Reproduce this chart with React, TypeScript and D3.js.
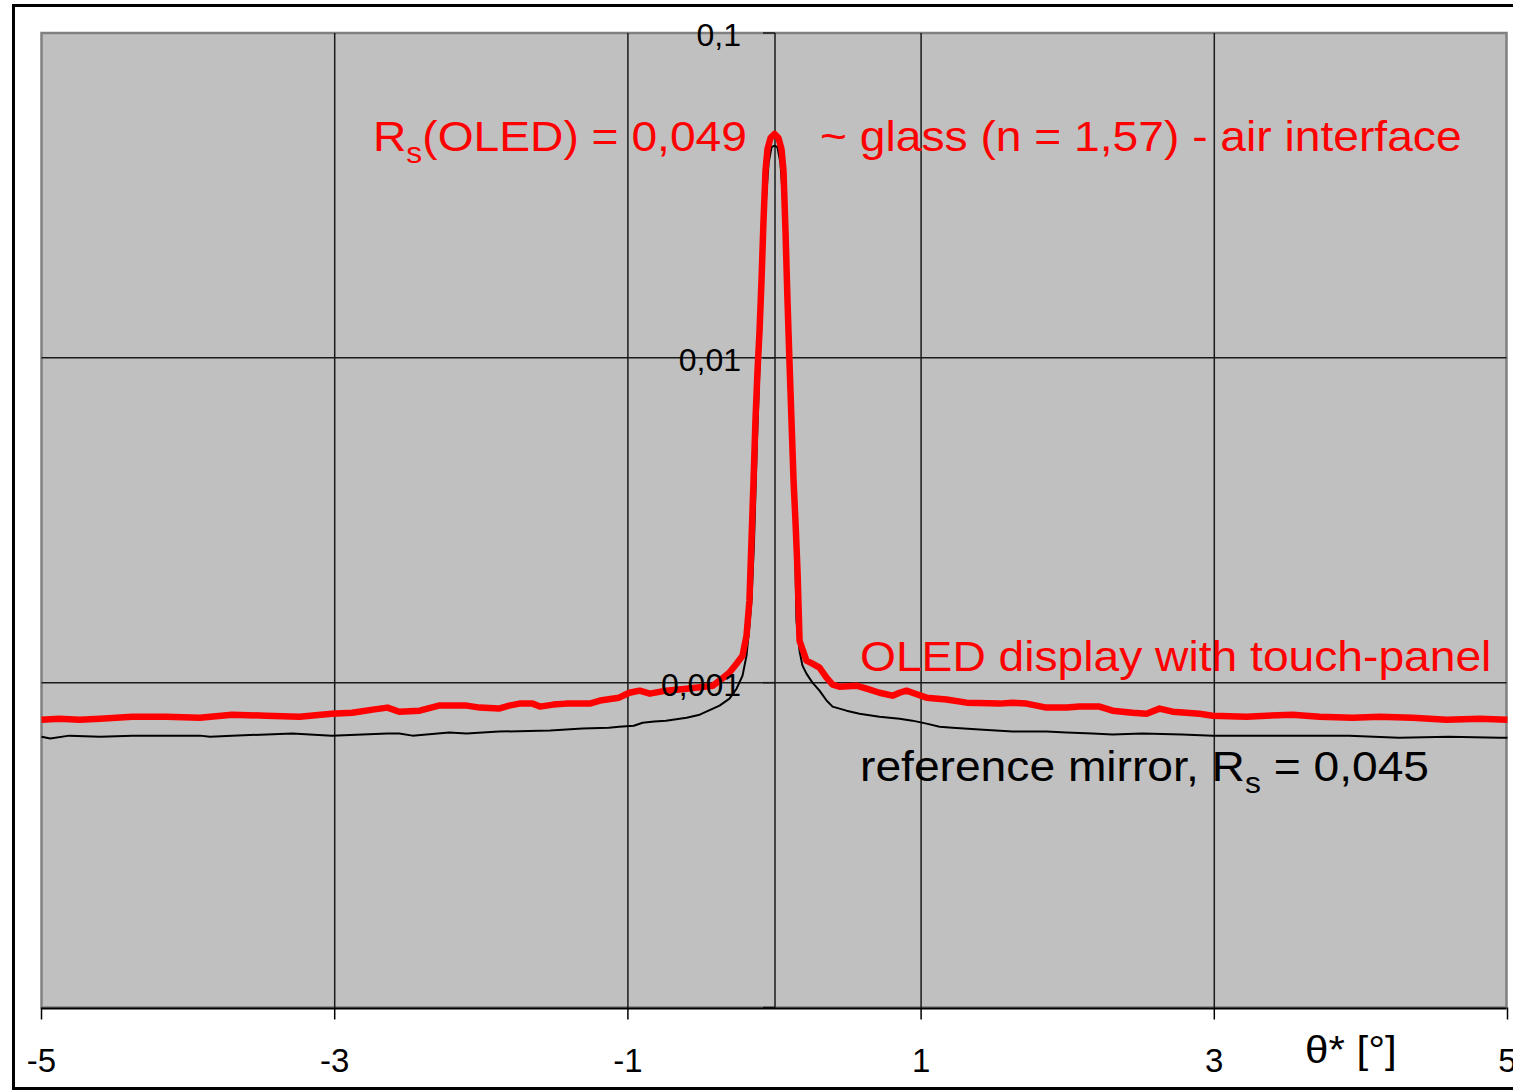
import React from 'react';
import * as d3 from 'd3';

// ---- data ----
const xTickValues = [-5, -3, -1, 1, 3, 5];
const xTickLabels = ['-5', '-3', '-1', '1', '3', '5'];
const yTickValues = [0.0001, 0.001, 0.01, 0.1];
const yTickLabels = ['', '0,001', '0,01', '0,1'];

const oledAngle = [
  -5.0, -4.88, -4.74, -4.6, -4.38, -4.15, -3.92, -3.7, -3.47, -3.24, -3.02, -2.88, -2.74, -2.64, -2.56, -2.42,
  -2.29, -2.1, -2.01, -1.88, -1.81, -1.74, -1.65, -1.6, -1.51, -1.42, -1.26, -1.19, -1.06, -0.99, -0.92, -0.85,
  -0.74, -0.6, -0.42, -0.375, -0.307, -0.259, -0.218, -0.191, -0.171, -0.157, -0.143, -0.13, -0.116, -0.102,
  -0.0887, -0.075, -0.0614, -0.0477, -0.0273, 0, 0.0273, 0.0477, 0.0614, 0.075, 0.0887, 0.102, 0.116, 0.13,
  0.143, 0.157, 0.171, 0.218, 0.259, 0.307, 0.355, 0.396, 0.443, 0.559, 0.628, 0.716, 0.805, 0.853, 0.9, 0.941,
  1.037, 1.173, 1.31, 1.535, 1.623, 1.719, 1.855, 1.992, 2.08, 2.217, 2.306, 2.442, 2.538, 2.626, 2.715, 2.899,
  2.988, 3.22, 3.356, 3.533, 3.718, 3.943, 4.127, 4.352, 4.584, 4.809, 5.0,
];
const oledR = [
  0.000769, 0.000774, 0.000769, 0.000774, 0.000785, 0.000785, 0.00078, 0.000797, 0.000791, 0.000785, 0.000802,
  0.000808, 0.000826, 0.000838, 0.000814, 0.00082, 0.00085, 0.00085, 0.000838, 0.000832, 0.00085, 0.000862,
  0.000862, 0.000844, 0.000856, 0.000862, 0.000862, 0.000881, 0.000899, 0.000931, 0.000945, 0.000925, 0.000945,
  0.000958, 0.000979, 0.001014, 0.001074, 0.001144, 0.001211, 0.001395, 0.001788, 0.002735, 0.004183, 0.006399,
  0.00912, 0.01211, 0.01725, 0.02639, 0.03762, 0.04395, 0.04751, 0.0489, 0.04751, 0.04395, 0.03762, 0.02459,
  0.01497, 0.00979, 0.006399, 0.004183, 0.00315, 0.00221, 0.001346, 0.001169, 0.001144, 0.001112, 0.001036,
  0.000986, 0.000972, 0.000979, 0.000958, 0.000931, 0.000912, 0.000931, 0.000945, 0.000931, 0.000899, 0.000887,
  0.000868, 0.000862, 0.000868, 0.000862, 0.000838, 0.000838, 0.000844, 0.000844, 0.00082, 0.000808, 0.000802,
  0.000832, 0.000814, 0.000802, 0.000791, 0.000785, 0.000791, 0.000797, 0.000785, 0.00078, 0.000785, 0.00078,
  0.000769, 0.000774, 0.000769,
];

const mirrorAngle = [
  -5.0, -4.94, -4.81, -4.6, -4.38, -3.92, -3.85, -3.7, -3.29, -3.02, -2.81, -2.64, -2.56, -2.47, -2.22, -2.1,
  -1.88, -1.53, -1.31, -1.13, -1.06, -0.96, -0.9, -0.82, -0.74, -0.6, -0.51, -0.42, -0.375, -0.307, -0.259,
  -0.218, -0.191, -0.171, -0.157, -0.14, -0.12, -0.1, -0.08, -0.06, -0.04, -0.02, 0, 0.02, 0.04, 0.06, 0.08,
  0.1, 0.12, 0.14, 0.15, 0.171, 0.191, 0.218, 0.259, 0.307, 0.355, 0.396, 0.491, 0.58, 0.716, 0.853, 0.941,
  1.037, 1.126, 1.214, 1.398, 1.623, 1.855, 1.992, 2.169, 2.306, 2.51, 2.78, 2.99, 3.26, 3.58, 3.92, 4.26, 4.6,
  4.95, 5.0,
];
const mirrorR = [
  0.000682, 0.000673, 0.000687, 0.000682, 0.000687, 0.000687, 0.000682, 0.000687, 0.000697, 0.000687, 0.000692,
  0.000697, 0.000697, 0.000687, 0.000702, 0.000697, 0.000707, 0.000712, 0.000722, 0.000727, 0.000732, 0.000737,
  0.000753, 0.000759, 0.000764, 0.00078, 0.000797, 0.000832, 0.00085, 0.000893, 0.000958, 0.001051, 0.001211,
  0.001497, 0.00179, 0.0027, 0.0055, 0.01, 0.018, 0.03, 0.04, 0.0445, 0.045, 0.0445, 0.04, 0.03, 0.018, 0.01,
  0.0055, 0.0027, 0.00155, 0.00125, 0.001128, 0.001066, 0.001, 0.000945, 0.000881, 0.000844, 0.00082, 0.000802,
  0.000785, 0.000774, 0.000764, 0.000748, 0.000732, 0.000727, 0.000717, 0.000707, 0.000707, 0.000702, 0.000697,
  0.000692, 0.000697, 0.000692, 0.000687, 0.000687, 0.000687, 0.000687, 0.000677, 0.000682, 0.000677, 0.000677,
];

const W = 1513;
const H = 1092;
const FONT = 'Liberation Sans, Arial, Helvetica, sans-serif';

export default function App() {
  const x = d3.scaleLinear().domain([-5, 5]).range([41.5, 1507.5]);
  const y = d3.scaleLog().domain([0.0001, 0.1]).range([1007.5, 33]);
  const line = d3
    .line<[number, number]>()
    .x((d) => x(d[0]))
    .y((d) => y(d[1]));
  const oled: [number, number][] = oledAngle.map((a, i) => [a, oledR[i]]);
  const mirror: [number, number][] = mirrorAngle.map((a, i) => [a, mirrorR[i]]);
  const left = x(-5);
  const right = x(5) - 1;
  const top = y(0.1);
  const bottom = y(0.0001);
  const x0 = x(0) + 0.5;
  const sx = 1.1;

  return (
    <svg width={W} height={H} style={{ position: 'absolute', left: 0, top: 0, background: '#fff' }} fontFamily={FONT}>
      <rect x={13.5} y={5.5} width={1510} height={1083} fill="#fff" stroke="#000" strokeWidth={3} />
      <rect x={left} y={top} width={right - left} height={bottom - top} fill="#c0c0c0" stroke="#808080" strokeWidth={2.5} />
      {/* gridlines */}
      {xTickValues
        .filter((v) => v !== -5 && v !== 5)
        .map((v) => (
          <line key={'gx' + v} x1={x(v)} x2={x(v)} y1={top} y2={bottom} stroke="#1a1a1a" strokeWidth={1.5} />
        ))}
      {yTickValues
        .filter((v) => v !== 0.0001 && v !== 0.1)
        .map((v) => (
          <line key={'gy' + v} x1={left} x2={right} y1={y(v)} y2={y(v)} stroke="#1a1a1a" strokeWidth={1.5} />
        ))}
      {/* y axis at 0 */}
      <line x1={x0} x2={x0} y1={top} y2={bottom} stroke="#1a1a1a" strokeWidth={1.5} />
      {yTickValues.map((v) => (
        <line key={'ty' + v} x1={x0 - 12} x2={x0} y1={y(v)} y2={y(v)} stroke="#1a1a1a" strokeWidth={1.5} />
      ))}
      {/* x axis */}
      <line x1={left} x2={right} y1={bottom + 1} y2={bottom + 1} stroke="#000" strokeWidth={2} />
      {xTickValues.map((v) => (
        <line key={'tx' + v} x1={x(v)} x2={x(v)} y1={bottom} y2={bottom + 12} stroke="#000" strokeWidth={1.5} />
      ))}
      {/* curves */}
      <path d={line(mirror) || ''} fill="none" stroke="#000" strokeWidth={2} strokeLinejoin="round" />
      <path d={line(oled) || ''} fill="none" stroke="#ff0000" strokeWidth={6.5} strokeLinejoin="round" />
      {/* y tick labels */}
      {yTickValues.map((v, i) =>
        yTickLabels[i] ? (
          <text key={'ly' + v} x={741} y={y(v) + 13} textAnchor="end" fontSize={32} fill="#000">
            {yTickLabels[i]}
          </text>
        ) : null
      )}
      {/* x tick labels */}
      {xTickValues.map((v, i) => (
        <text key={'lx' + v} x={x(v)} y={1072} textAnchor="middle" fontSize={33} fill="#000">
          {xTickLabels[i]}
        </text>
      ))}
      <g transform="translate(1305,1063) scale(1.08,1)">
        <text x={0} y={0} fontSize={39} fill="#000">
          θ* [°]
        </text>
      </g>
      {/* annotations */}
      <g transform={`translate(373,151) scale(${sx},1)`} fill="#ff0000" fontSize={42}>
        <text x={0} y={0}>
          R<tspan fontSize={29} dy={12}>s</tspan>
          <tspan dy={-12}>(OLED) = 0,049</tspan>
        </text>
      </g>
      <g transform={`translate(820,151) scale(${sx},1)`} fill="#ff0000" fontSize={42}>
        <text x={0} y={0}>~ glass (n = 1,57) - air interface</text>
      </g>
      <g transform={`translate(860,671) scale(${sx},1)`} fill="#ff0000" fontSize={42}>
        <text x={0} y={0}>OLED display with touch-panel</text>
      </g>
      <g transform={`translate(860,781) scale(${sx},1)`} fill="#000" fontSize={42}>
        <text x={0} y={0}>
          reference mirror, R<tspan fontSize={29} dy={12}>s</tspan>
          <tspan dy={-12}> = 0,045</tspan>
        </text>
      </g>
    </svg>
  );
}
